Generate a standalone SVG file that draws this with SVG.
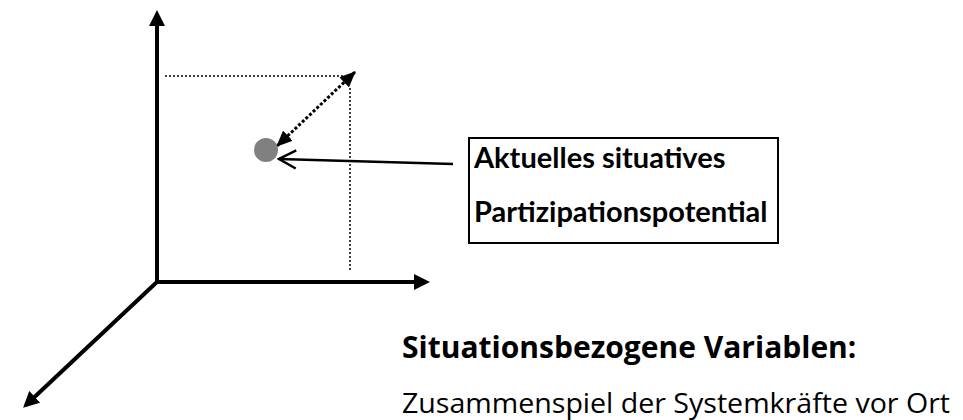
<svg xmlns="http://www.w3.org/2000/svg" width="963" height="420" viewBox="0 0 963 420">
<style>
.axis{stroke:#000;stroke-width:4;fill:none}
.dot{stroke:#000;stroke-width:1.5;stroke-dasharray:2 2;fill:none}
.dotb{stroke:#000;stroke-width:3;stroke-dasharray:3 2;fill:none}
.lbl{font-family:"Lato","Open Sans",sans-serif;font-weight:bold;font-size:29px;fill:#000}
.h{font-family:"Open Sans",sans-serif;font-weight:bold;font-size:30px;fill:#000}
.t{font-family:"Open Sans",sans-serif;font-size:28px;fill:#000}
</style>
<defs>
<marker id="ah" markerWidth="4" markerHeight="4" refX="3" refY="2" orient="auto" markerUnits="strokeWidth"><path d="M0,0 L4,2 L0,4 Z" fill="#000"/></marker>
<marker id="ahd" markerWidth="16" markerHeight="14" refX="15" refY="7" orient="auto-start-reverse" markerUnits="userSpaceOnUse"><path d="M0,0 L16,7 L0,14 Z" fill="#000"/></marker>
<marker id="open" markerWidth="20" markerHeight="22" refX="18" refY="11" orient="auto" markerUnits="userSpaceOnUse"><path d="M1,2 L18,11 L1,20" fill="none" stroke="#000" stroke-width="2.5"/></marker>
</defs>
<g id="connectors">
<line class="axis" x1="157" y1="282" x2="157" y2="14" marker-end="url(#ah)"/>
<line class="axis" x1="155" y1="282" x2="426" y2="282" marker-end="url(#ah)"/>
<line class="axis" x1="158" y1="281" x2="26" y2="405" marker-end="url(#ah)"/>
<line class="dot" x1="165" y1="76" x2="346" y2="76"/>
<line class="dot" x1="350" y1="88" x2="350" y2="272"/>
<line class="dotb" x1="355" y1="72" x2="277" y2="146" marker-start="url(#ahd)" marker-end="url(#ahd)"/>
<line x1="453" y1="164" x2="279" y2="159" stroke="#000" stroke-width="2.5" marker-end="url(#open)"/>
</g>
<g id="point"><circle cx="266" cy="150" r="12" fill="#808080"/></g>
<g id="label">
<rect x="469" y="138" width="309" height="105" fill="none" stroke="#000" stroke-width="2"/>
<text class="lbl" x="474" y="168">Aktuelles situatives</text>
<text class="lbl" x="474" y="222">Partizipationspotential</text>
</g>
<g id="caption">
<text class="h" x="402" y="358">Situationsbezogene Variablen:</text>
<text class="t" x="402" y="413" textLength="548" lengthAdjust="spacingAndGlyphs">Zusammenspiel der Systemkräfte vor Ort</text>
</g>
</svg>
